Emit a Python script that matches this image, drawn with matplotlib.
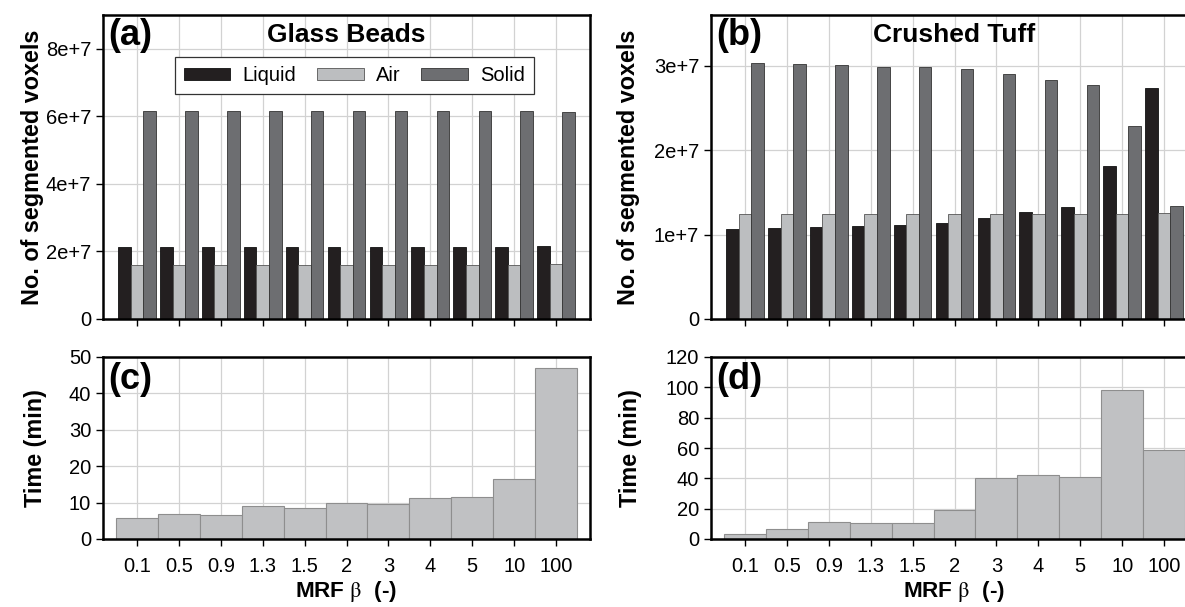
import numpy as np
import matplotlib
matplotlib.use("Agg")
import matplotlib.pyplot as plt
from matplotlib.ticker import FixedLocator, FuncFormatter

plt.rcParams["font.family"] = ["Liberation Sans", "DejaVu Sans"]
plt.rcParams["mathtext.fontset"] = "stix"

# MRF beta values used for segmentation
beta_labels = ["0.1", "0.5", "0.9", "1.3", "1.5", "2", "3", "4", "5", "10", "100"]

# segmented voxel counts, glass beads
gb_liquid = [2.14e7, 2.14e7, 2.14e7, 2.14e7, 2.14e7, 2.14e7, 2.14e7, 2.14e7, 2.14e7, 2.14e7, 2.16e7]
gb_air = [1.61e7, 1.61e7, 1.61e7, 1.61e7, 1.61e7, 1.61e7, 1.61e7, 1.61e7, 1.61e7, 1.61e7, 1.63e7]
gb_solid = [6.16e7, 6.16e7, 6.16e7, 6.16e7, 6.16e7, 6.16e7, 6.16e7, 6.16e7, 6.16e7, 6.16e7, 6.14e7]

# segmented voxel counts, crushed tuff
ct_liquid = [1.066e7, 1.078e7, 1.086e7, 1.10e7, 1.11e7, 1.133e7, 1.196e7, 1.263e7, 1.326e7, 1.812e7, 2.74e7]
ct_air = [1.24e7, 1.24e7, 1.24e7, 1.24e7, 1.24e7, 1.24e7, 1.24e7, 1.245e7, 1.245e7, 1.245e7, 1.257e7]
ct_solid = [3.03e7, 3.02e7, 3.01e7, 2.99e7, 2.985e7, 2.96e7, 2.898e7, 2.827e7, 2.767e7, 2.28e7, 1.34e7]

# run times (min)
gb_time = [5.85, 6.86, 6.5, 8.96, 8.6, 9.96, 9.7, 11.24, 11.5, 16.4, 47.1]
ct_time = [3.3, 6.6, 11.0, 10.3, 10.7, 18.9, 40.4, 42.1, 41.0, 98.5, 58.6]

c_liquid = "#231f20"
c_air = "#bcbec0"
c_solid = "#6d6e71"
c_time = "#c0c1c3"
c_grid = "#d2d2d2"

fig = plt.figure(figsize=(11.85, 6.07), dpi=100)
W, H = 1185.0, 607.0


def px_axes(x0, y0, x1, y1):
    # axes from pixel box (top-left origin)
    return fig.add_axes([x0 / W, 1 - y1 / H, (x1 - x0) / W, (y1 - y0) / H])


ax_a = px_axes(103, 15, 590, 319)
ax_b = px_axes(711, 15, 1198, 319)
ax_c = px_axes(103, 357, 590, 539)
ax_d = px_axes(711, 357, 1198, 539)

x = np.arange(len(beta_labels))


def style(ax, yticks):
    ax.set_xlim(-0.81, len(beta_labels) - 1 + 0.81)
    ax.set_ylim(yticks[0], yticks[-1])
    ax.set_axisbelow(True)
    ax.grid(True, color=c_grid, linewidth=0.9)
    ax.xaxis.set_major_locator(FixedLocator(x))
    for s in ax.spines.values():
        s.set_linewidth(1.8)
        s.set_color("black")
    ax.tick_params(direction="out", length=5, width=1.0, labelsize=14.5, colors="black")


def sci(v, pos):
    if v == 0:
        return "0"
    return "%de+7" % round(v / 1e7)


def voxel_panel(ax, liquid, air, solid, ymax, ystep, tag, title, ylab_x):
    w = 0.30
    ax.bar(x - w, liquid, w, color=c_liquid, edgecolor="#111111", linewidth=0.6, label="Liquid")
    ax.bar(x, air, w, color=c_air, edgecolor="#555555", linewidth=0.6, label="Air")
    ax.bar(x + w, solid, w, color=c_solid, edgecolor="#333333", linewidth=0.6, label="Solid")
    style(ax, [0, ymax])
    ax.yaxis.set_major_locator(FixedLocator(np.arange(0, ymax, ystep)))
    ax.yaxis.set_major_formatter(FuncFormatter(sci))
    ax.set_xticklabels([])
    ax.set_ylabel("No. of segmented voxels", fontsize=16.8, fontweight="bold")
    ax.yaxis.set_label_coords(ylab_x, 0.5)
    ax.text(0.01, 0.99, tag, transform=ax.transAxes, fontsize=26, fontweight="bold",
            ha="left", va="top")
    ax.text(0.5, 0.935, title, transform=ax.transAxes, fontsize=19, fontweight="bold",
            ha="center", va="center")


def time_panel(ax, times, ymax, ystep, tag, ylab_x):
    ax.bar(x, times, 1.0, color=c_time, edgecolor="#8e8e8e", linewidth=0.8)
    style(ax, [0, ymax])
    ax.yaxis.set_major_locator(FixedLocator(np.arange(0, ymax + 1, ystep)))
    ax.set_xticklabels(beta_labels)
    ax.tick_params(axis="x", pad=8)
    ax.set_ylabel("Time (min)", fontsize=16.8, fontweight="bold")
    ax.yaxis.set_label_coords(ylab_x, 0.5)
    ax.set_xlabel(r"MRF $\mathrm{\beta}$  (-)", fontsize=16.2, fontweight="bold", labelpad=2)
    ax.text(0.01, 0.975, tag, transform=ax.transAxes, fontsize=26, fontweight="bold",
            ha="left", va="top")


voxel_panel(ax_a, gb_liquid, gb_air, gb_solid, 9e7, 2e7, "(a)", "Glass Beads", -0.121)
voxel_panel(ax_b, ct_liquid, ct_air, ct_solid, 3.6e7, 1e7, "(b)", "Crushed Tuff", -0.146)

leg = ax_a.legend(loc="center", bbox_to_anchor=(0.516, 0.80), ncol=3, fontsize=14.5,
                  frameon=True, fancybox=False, edgecolor="#333333", framealpha=1,
                  handlelength=2.3, handleheight=0.5, columnspacing=1.05,
                  handletextpad=0.6, borderpad=0.45, borderaxespad=0)
leg.get_frame().set_linewidth(0.9)

time_panel(ax_c, gb_time, 50, 10, "(c)", -0.115)
time_panel(ax_d, ct_time, 120, 20, "(d)", -0.142)

fig.savefig("out.png", dpi=100)
